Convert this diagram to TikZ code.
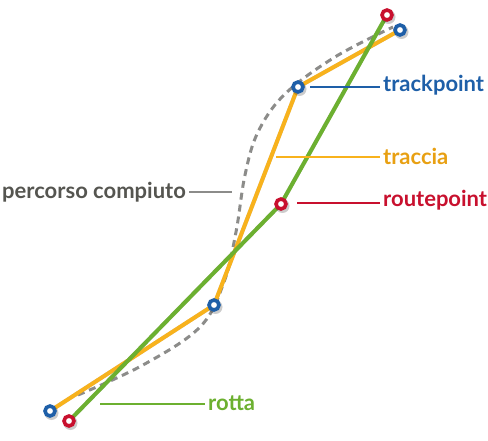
\documentclass[tikz,border=0pt]{standalone}
\usepackage{fontspec}
\setmainfont{Lato}
\usetikzlibrary{positioning,calc}
\definecolor{tpblue}{RGB}{30,95,168}
\definecolor{trackorange}{RGB}{248,178,28}
\definecolor{labelorange}{RGB}{232,160,18}
\definecolor{rpred}{RGB}{200,16,46}
\definecolor{routegreen}{RGB}{108,176,48}
\definecolor{pathgrey}{RGB}{140,140,138}
\definecolor{textgrey}{RGB}{85,85,80}

\begin{document}
\begin{tikzpicture}[
    x=1pt, y=-1pt,
    ptmark/.style={circle, fill=white, line width=3.6pt, minimum size=10pt, inner sep=0pt},
    tpoint/.style={ptmark, draw=tpblue},
    rpoint/.style={ptmark, draw=rpred},
    lbl/.style={anchor=west, inner sep=0pt, font=\bfseries\fontsize{22}{26}\selectfont},
    leader/.style={line width=1.6pt},
    shade/.style={line width=4pt, black, opacity=0.18, shift={(1.5,2)}}
]
\useasboundingbox (0,0) rectangle (488,441);

% punti della traccia e della rotta
\coordinate (t1) at (50,411);
\coordinate (t2) at (214,305);
\coordinate (t3) at (298,87);
\coordinate (t4) at (400,30);
\coordinate (r1) at (69,421);
\coordinate (r2) at (281,204);
\coordinate (r3) at (387,15);

% percorso compiuto
\draw[pathgrey, line width=3pt, dash pattern=on 7pt off 5pt]
    plot[smooth, tension=0.6] coordinates {(78,395) (143,365) (200,327) (224,282)
    (236,232) (245,175) (258,132) (285,94) (335,57) (393,27)};

% traccia
\draw[shade] (t1) -- (t2) -- (t3) -- (t4);
\draw[trackorange, line width=4pt, line join=round] (t1) -- (t2) -- (t3) -- (t4);

% rotta
\draw[shade] (r1) -- (r2) -- (r3);
\draw[routegreen, line width=4pt, line join=round] (r1) -- (r2) -- (r3);

% marcatori
\foreach \p in {t1,t2,t3,t4} {
  \fill[black, opacity=0.2] ($(\p)+(1.5,2)$) circle (7pt);
  \node[tpoint] (n\p) at (\p) {};
}
\foreach \p in {r1,r2,r3} {
  \fill[black, opacity=0.2] ($(\p)+(1.5,2)$) circle (7pt);
  \node[rpoint] (n\p) at (\p) {};
}

% etichette
\node[lbl, text=tpblue] (trackpoint) at (383,85) {trackpoint};
\node[lbl, text=labelorange] (traccia) at (383,156) {traccia};
\node[lbl, text=rpred] (routepoint) at (383,200) {routepoint};
\node[lbl, text=textgrey] (percorso) at (2,192) {percorso compiuto};
\node[lbl, text=routegreen] (rotta) at (208,403) {rotta};

\coordinate (ltp) at (310,87);
\coordinate (ltr) at (276,157);
\coordinate (lrp) at (297,203);
\coordinate (lpc) at (232,192);
\coordinate (lro) at (100,404);

\draw[leader, tpblue] (ltp) -- ([xshift=-3pt]trackpoint.west |- ltp);
\draw[leader, trackorange] (ltr) -- ([xshift=-3pt]traccia.west |- ltr);
\draw[leader, rpred] (lrp) -- ([xshift=-3pt]routepoint.west |- lrp);
\draw[leader, pathgrey] ([xshift=3pt]percorso.east |- lpc) -- (lpc);
\draw[leader, routegreen] (lro) -- ([xshift=-3pt]rotta.west |- lro);
\end{tikzpicture}
\end{document}
